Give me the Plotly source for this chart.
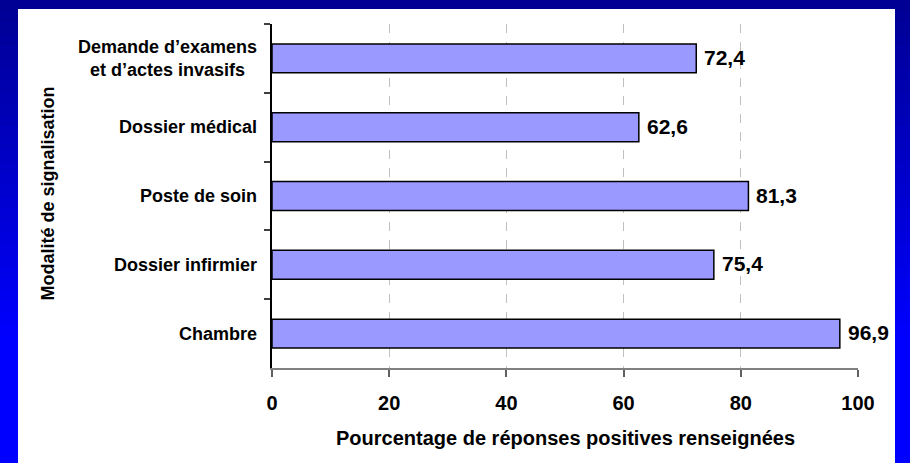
import plotly.graph_objects as go

# ---- data ----
categories = ["Demande d’examens<br>et d’actes invasifs", "Dossier médical", "Poste de soin",
              "Dossier infirmier", "Chambre"]
values = [72.4, 62.6, 81.3, 75.4, 96.9]
x_ticks = [0, 20, 40, 60, 80, 100]
x_title = "Pourcentage de réponses positives renseignées"
y_title = "Modalité de signalisation"

W, H = 910, 463
L, R, T, B = 272, 52, 24, 95
PW, PH = W - L - R, H - T - B

def px_x(px):
    return (px - L) / PW

def px_y(py):
    return (H - B - py) / PH

FONT = "Arial, 'Liberation Sans', sans-serif"

fig = go.Figure()
fig.add_trace(go.Bar(
    y=categories, x=values, orientation="h",
    marker=dict(color="#9999FF", line=dict(color="#000000", width=1.5)),
    width=0.42,
    hoverinfo="skip",
))

# background gradient + white panel
shapes = []
n = 40
top_c = (0, 0, 0x92)
bot_c = (0, 0, 0xFF)
grad_end = 340
for i in range(n):
    y0 = H * i / n
    y1 = H * (i + 1) / n
    t = min(1.0, ((y0 + y1) / 2) / grad_end)
    c = tuple(int(round(a + (b - a) * t)) for a, b in zip(top_c, bot_c))
    shapes.append(dict(type="rect", xref="paper", yref="paper", layer="below",
                       x0=px_x(0), x1=px_x(W), y0=px_y(y1 + 0.5), y1=px_y(y0),
                       fillcolor=f"rgb{c}", line=dict(width=0)))
shapes.append(dict(type="rect", xref="paper", yref="paper", layer="below",
                   x0=px_x(18), x1=px_x(895), y0=px_y(H + 2), y1=px_y(9),
                   fillcolor="#FFFFFF", line=dict(width=0)))

annotations = []
for c, v in zip(categories, values):
    annotations.append(dict(x=0, y=c, xref="paper", yref="y", text=c, showarrow=False,
                            xanchor="right", xshift=-13, align="center",
                            font=dict(family=FONT, size=18, color="#000000", weight="bold")))
    annotations.append(dict(x=v, y=c, xref="x", yref="y", text=f"{v:.1f}".replace(".", ","),
                            showarrow=False, xanchor="left", xshift=6, yshift=1,
                            font=dict(family=FONT, size=21, color="#000000", weight="bold")))
annotations.append(dict(x=px_x(565), y=px_y(438), xref="paper", yref="paper", text=x_title,
                        showarrow=False, xanchor="center", yanchor="middle",
                        font=dict(family=FONT, size=20, color="#000000", weight="bold")))
annotations.append(dict(x=px_x(47.5), y=px_y(194), xref="paper", yref="paper", text=y_title,
                        showarrow=False, textangle=-90, xanchor="center", yanchor="middle",
                        font=dict(family=FONT, size=18, color="#000000", weight="bold")))

fig.update_layout(
    width=W, height=H,
    margin=dict(l=L, r=R, t=T, b=B),
    paper_bgcolor="#0000FF",
    plot_bgcolor="rgba(0,0,0,0)",
    showlegend=False,
    shapes=shapes,
    annotations=annotations,
    xaxis=dict(range=[0, 100], tickvals=x_ticks, ticktext=[str(v) for v in x_ticks],
               showgrid=True, gridcolor="#C0C0C0", griddash="dash", gridwidth=1,
               showline=True, linecolor="#808080", linewidth=1.5,
               ticks="outside", ticklen=7, tickcolor="#606060", tickwidth=1.5,
               ticklabelstandoff=9,
               tickfont=dict(family=FONT, size=20, color="#000000", weight="bold"),
               zeroline=False, fixedrange=True),
    yaxis=dict(autorange="reversed", showline=True, linecolor="#000000", linewidth=1.5,
               ticks="outside", tickson="boundaries", ticklen=6, tickcolor="#404040",
               tickwidth=1.5, showticklabels=False, showgrid=False, fixedrange=True),
)

fig.write_html("out.html", config={"displayModeBar": False},
               post_script="document.body.style.margin='0';document.body.style.overflow='hidden';")
